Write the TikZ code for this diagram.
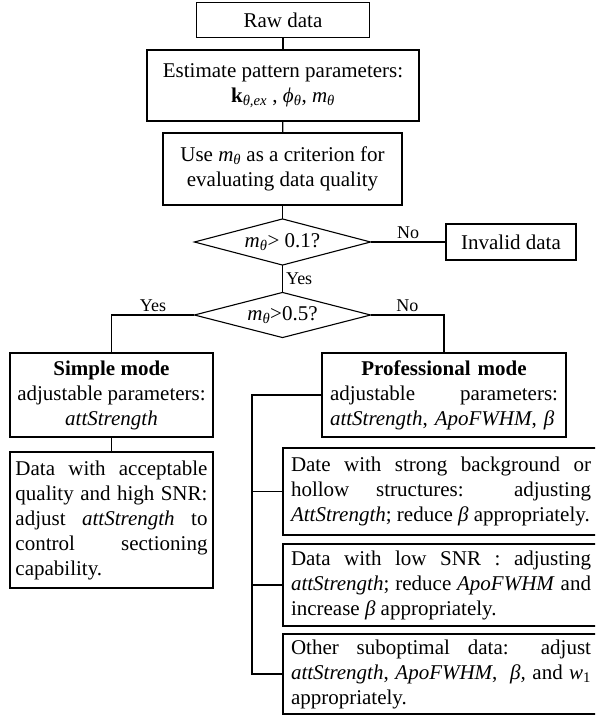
\documentclass[tikz,border=0pt]{standalone}
\usepackage{fontspec}
\setmainfont{Liberation Serif}
\usetikzlibrary{positioning}

\newcommand{\mth}{\textit{m}\textsubscript{\textit{θ}}}

\begin{document}
\begin{tikzpicture}[x=1pt, y=-1pt, line width=1.1pt,
    font=\fontsize{21}{25}\selectfont,
    box/.style={draw, inner sep=0pt, align=center},
    para/.style={draw, inner ysep=0pt, align=justify},
    lbl/.style={font=\fontsize{18}{20}\selectfont, inner sep=3pt}]

    \path[use as bounding box, clip] (0,0) rectangle (595,717);

    % main column
    \node[box, minimum width=173pt, minimum height=35pt] (raw) at (283,20) {Raw data};
    \node[box, minimum width=272pt, minimum height=71pt] (est) at (283,85.5)
        {Estimate pattern parameters:\\ \textbf{k}\textsubscript{\textit{θ,ex}} , \textit{ϕ}\textsubscript{\textit{θ}}, \mth};
    \node[box, minimum width=239pt, minimum height=72pt] (use) at (282.5,169)
        {Use \mth{} as a criterion for\\ evaluating data quality};

    % decisions
    \node[minimum width=175pt, minimum height=45pt, inner sep=0pt] (d1) at (282.5,242) {\mth> 0.1?};
    \draw (d1.north) -- (d1.east) -- (d1.south) -- (d1.west) -- cycle;
    \node[minimum width=175pt, minimum height=44pt, inner sep=0pt] (d2) at (282.5,315) {\mth>0.5?};
    \draw (d2.north) -- (d2.east) -- (d2.south) -- (d2.west) -- cycle;

    \node[box, minimum width=130pt, minimum height=36pt] (inv) at (511,242) {Invalid data};

    % modes
    \node[box, minimum width=203pt, minimum height=84pt] (simple) at (111.5,395)
        {\textbf{Simple mode}\\ adjustable parameters:\\ \textit{attStrength}};
    \node[para, text width=192pt, inner xsep=5.5pt, minimum height=136pt] (sdata) at (111.5,520)
        {Data with acceptable\linebreak quality and high SNR:\linebreak adjust \textit{attStrength} to\linebreak control sectioning\linebreak capability.};

    \node[box, text width=228pt, inner xsep=8pt, minimum height=84pt] (prof) at (444,395)
        {\textbf{Professional mode}\\ adjustable\hfill parameters:\\ \textit{attStrength}, \textit{ApoFWHM}, \textit{β}\hfill\null};

    \node[para, text width=300pt, inner xsep=8pt, minimum height=87pt] (b1) at (441,491.5)
        {Date with strong background or\linebreak hollow structures: adjusting\linebreak \textit{AttStrength}; reduce \textit{β} appropriately.};
    \node[para, text width=300pt, inner xsep=8pt, minimum height=82pt] (b2) at (441,585)
        {Data with low SNR : adjusting\linebreak \textit{attStrength}; reduce \textit{ApoFWHM} and\linebreak increase \textit{β} appropriately.};
    \node[para, text width=300pt, inner xsep=8pt, minimum height=80pt] (b3) at (441,674)
        {Other suboptimal data: adjust\linebreak \textit{attStrength}, \textit{ApoFWHM}, \ \textit{β,} and \textit{w}\textsubscript{1}\linebreak appropriately.};

    % connectors
    \draw (raw) -- (est);
    \draw (est) -- (use);
    \draw (use) -- (d1.north);
    \draw (d1.east) -- node[lbl, above] {No} (inv);
    \draw (d1.south) -- node[lbl, right] {Yes} (d2.north);
    \draw (d2.west) -| node[lbl, above, pos=0.25] {Yes} (simple.north);
    \draw (d2.east) -| node[lbl, above, pos=0.25] {No} (prof.north);
    \draw (simple) -- (sdata);

    \coordinate (rail) at (252,395);
    \draw (prof.west) -- (rail) |- (b3.west);
    \foreach \b in {b1,b2}
        \draw (rail |- \b.west) -- (\b.west);

\end{tikzpicture}
\end{document}
